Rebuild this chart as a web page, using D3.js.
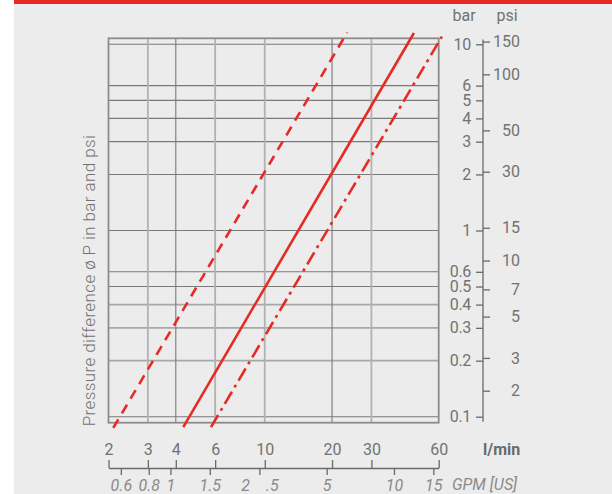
<!DOCTYPE html>
<html><head><meta charset="utf-8">
<script src="https://cdn.jsdelivr.net/npm/d3@7"></script>
<style>
html,body{margin:0;padding:0;background:#fff;}
svg{display:block;}
text{font-family:Roboto,"Open Sans",sans-serif;}
</style></head>
<body>
<svg id="c" width="612" height="494"></svg>
<script>
// ---- data ----
const flowLpmTicks = [2, 3, 4, 6, 10, 20, 30, 60];
const flowGpmTicks = [0.6, 0.8, 1, 1.5, 2.5, 5, 10, 15];
const flowGpmLabels = ["0.6", "0.8", "1", "1.5", "2\u2002\u2002.5", "5", "10", "15"];
const barTicks = [0.1, 0.2, 0.3, 0.4, 0.5, 0.6, 1, 2, 3, 4, 5, 6, 10];
const barLabels = ["0.1", "0.2", "0.3", "0.4", "0.5", "0.6", "1", "2", "3", "4", "5", "6", "10"];
const psiTicks = [2, 3, 5, 7, 10, 15, 30, 50, 100, 150];
const curveDashedLpm = [2.1, 23.4];
const curveDashedBar = [0.087, 11.6];
const curveSolidLpm = [4.32, 46.5];
const curveSolidBar = [0.088, 11.5];
const curveDashDotLpm = [5.75, 62];
const curveDashDotBar = [0.088, 11.0];
const LPM_PER_GPM = 3.785;
const PSI_PER_BAR = 14.5;

// ---- layout ----
const svg = d3.select("#c");
const RED = "#e52b24";
const TXT = "#727272";
const FS = "16px";
svg.append("rect").attr("x", 14).attr("y", 0).attr("width", 598).attr("height", 494).attr("fill", "#ececec");
svg.append("rect").attr("x", 14).attr("y", 0).attr("width", 598).attr("height", 4).attr("fill", RED);

const x = d3.scaleLog().domain([2, 60]).range([108.5, 438.7]);
const y = d3.scaleLog().domain([0.1, 10]).range([416.7, 44.3]);
const yPsi = d3.scaleLog().domain([0.1 * PSI_PER_BAR, 10 * PSI_PER_BAR]).range(y.range());
const xGpm = d3.scaleLog().domain([2 / LPM_PER_GPM, 60 / LPM_PER_GPM]).range(x.range());

const g = svg.append("g");
// grid horizontal
const lightBar = new Set([0.2, 0.3, 0.4]);
g.selectAll("line.h").data(barTicks).join("line")
  .attr("x1", x(2)).attr("x2", x(60))
  .attr("y1", d => y(d)).attr("y2", d => y(d))
  .attr("stroke", d => lightBar.has(d) ? "#a8a8a8" : "#7a7a7a")
  .attr("stroke-width", d => lightBar.has(d) ? 1.6 : 1.1);
// grid vertical
const lightFlow = new Set([3, 6, 10, 30]);
g.selectAll("line.v").data(flowLpmTicks.slice(1, -1)).join("line")
  .attr("x1", d => x(d)).attr("x2", d => x(d))
  .attr("y1", y(10) - 6).attr("y2", y(0.1) + 6)
  .attr("stroke", d => lightFlow.has(d) ? "#b2b2b2" : "#7a7a7a")
  .attr("stroke-width", d => lightFlow.has(d) ? 1.8 : 1.1);
// frame
g.append("rect").attr("x", x(2)).attr("y", y(10) - 6)
  .attr("width", x(60) - x(2)).attr("height", y(0.1) - y(10) + 12)
  .attr("fill", "none").attr("stroke", "#8c8c8c").attr("stroke-width", 1.8);

// curves
const line = d3.line().x(d => x(d[0])).y(d => y(d[1]));
const curves = [
  {lpm: curveDashedLpm, bar: curveDashedBar, dash: "10,7"},
  {lpm: curveSolidLpm, bar: curveSolidBar, dash: null},
  {lpm: curveDashDotLpm, bar: curveDashDotBar, dash: "14,5,3,5"}
];
curves.forEach(c => {
  svg.append("path").datum(d3.zip(c.lpm, c.bar)).attr("d", line)
    .attr("fill", "none").attr("stroke", RED).attr("stroke-width", 2.6)
    .attr("stroke-dasharray", c.dash);
});

// right axes
const axX = 483;
const ra = svg.append("g").attr("transform", `translate(${axX},0)`);
ra.append("line").attr("x1", 0).attr("x2", 0)
  .attr("y1", yPsi(150) - 2).attr("y2", y(0.1) + 5).attr("stroke", "#6a6a6a").attr("stroke-width", 1.3);
const barAxis = ra.append("g").call(d3.axisLeft(y).tickValues(barTicks)
  .tickFormat((d, i) => barLabels[i]).tickSize(7).tickPadding(5));
const psiAxis = ra.append("g").call(d3.axisRight(yPsi).tickValues(psiTicks)
  .tickFormat(d3.format("d")).tickSize(7).tickPadding(30));
[barAxis, psiAxis].forEach(a => {
  a.select(".domain").remove();
  a.selectAll(".tick line").attr("stroke", "#6a6a6a").attr("stroke-width", 1.3);
  a.selectAll("text").attr("fill", TXT).style("font-size", FS).style("font-weight", 400).style("font-family", "Roboto, sans-serif");
});
barAxis.selectAll("text").style("letter-spacing", "-0.3px");
psiAxis.selectAll("text").attr("text-anchor", "end");
svg.append("text").attr("x", 464).attr("y", 21).attr("text-anchor", "middle")
  .attr("fill", TXT).style("font-size", FS).text("bar");
svg.append("text").attr("x", 507).attr("y", 21).attr("text-anchor", "middle")
  .attr("fill", TXT).style("font-size", FS).text("psi");

// bottom axes
const by = 468;
const lpmAxis = svg.append("g").attr("transform", `translate(0,${by})`)
  .call(d3.axisTop(x).tickValues(flowLpmTicks).tickFormat(d3.format("d")).tickSize(8).tickSizeOuter(0).tickPadding(5));
const gpmAxis = svg.append("g").attr("transform", `translate(0,${by})`)
  .call(d3.axisBottom(xGpm).tickValues(flowGpmTicks).tickFormat((d, i) => flowGpmLabels[i]).tickSize(7).tickSizeOuter(0).tickPadding(5));
lpmAxis.select(".domain").attr("stroke", "#6a6a6a").attr("stroke-width", 1.3);
gpmAxis.select(".domain").remove();
[lpmAxis, gpmAxis].forEach(a => {
  a.selectAll(".tick line").attr("stroke", "#6a6a6a").attr("stroke-width", 1.3);
  a.selectAll("text").attr("fill", TXT).style("font-size", FS).style("font-weight", 400).style("font-family", "Roboto, sans-serif");
});
gpmAxis.selectAll("text").attr("fill", "#8a8a8a").style("font-style", "italic").style("white-space", "pre");
svg.append("text").attr("x", 483).attr("y", 455).attr("fill", "#6a6a6a")
  .style("font-size", FS).style("font-weight", 700).text("l/min");
svg.append("text").attr("x", 452).attr("y", 490).attr("fill", "#8a8a8a")
  .style("font-size", FS).style("font-style", "italic").text("GPM [US]");

// y title
svg.append("text").attr("transform", `translate(95,${(y(10) + y(0.1)) / 2 + 50}) rotate(-90)`)
  .attr("text-anchor", "middle").attr("fill", TXT)
  .style("font-size", "17px").style("font-weight", 300).style("letter-spacing", "0.4px")
  .text("Pressure difference ø P in bar and psi");
</script>
</body></html>
